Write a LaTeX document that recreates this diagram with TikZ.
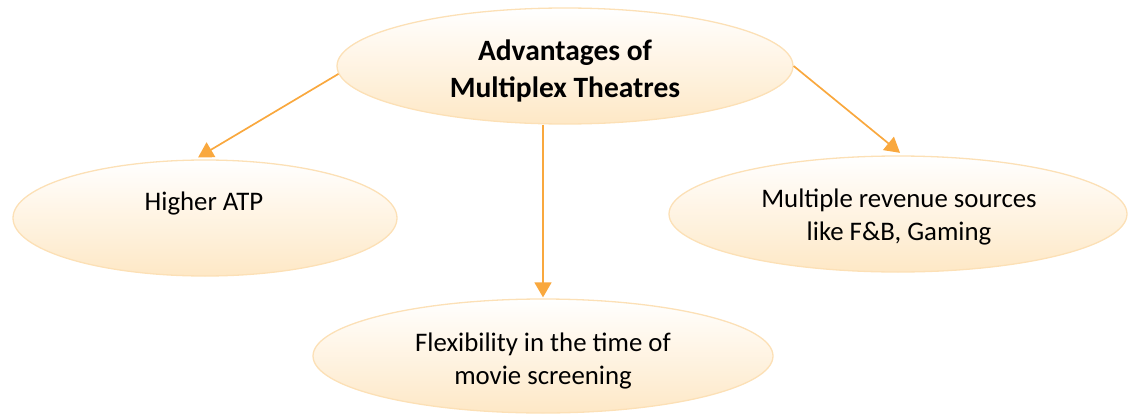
\documentclass[tikz,border=0pt]{standalone}
\usepackage{fontspec}
\setmainfont{Carlito}
\usetikzlibrary{arrows.meta,shapes.geometric}
\definecolor{edgeor}{RGB}{252,224,182}
\definecolor{fillor}{RGB}{254,232,198}
\definecolor{arrowor}{RGB}{249,168,62}
\begin{document}
\begin{tikzpicture}[x=1pt,y=-1pt,
  bubble/.style={ellipse, draw=edgeor, line width=1.3pt, top color=white, bottom color=fillor, inner sep=0pt},
  txt/.style={font=\fontsize{26.8}{33}\selectfont, align=center, text=black, anchor=base, inner sep=0pt},
  ttl/.style={font=\bfseries\fontsize{29.5}{37}\selectfont, align=center, text=black, anchor=base, inner sep=0pt},
  link/.style={draw=arrowor, line width=1.7pt, -{Triangle[length=15pt,width=17pt]}, shorten >=4pt}]
\useasboundingbox (0,0) rectangle (1135,415);
\node[bubble, minimum width=456pt, minimum height=116pt] (top) at (565,66) {};
\node[bubble, minimum width=384pt, minimum height=116pt] (hatp) at (205,218) {};
\node[bubble, minimum width=458pt, minimum height=116pt] (rev) at (898,214) {};
\node[bubble, minimum width=460pt, minimum height=114pt] (flex) at (543,356) {};
\node[ttl] (toptxt) at (565,97) {Advantages of\\Multiplex Theatres};
\node[txt] (hatptxt) at (204,210) {Higher ATP};
\node[txt] (revtxt) at (899,240) {Multiple revenue sources\\like F\&B, Gaming};
\node[txt] (flextxt) at (543,384) {Flexibility in the time of\\movie screening};
\draw[link] (top.182.5) -- (hatp.100);
\draw[link] (top.east) -- (rev.85);
\draw[link, shorten >=1pt] (top.south -| flex.north) -- (flex.north);
\end{tikzpicture}
\end{document}
